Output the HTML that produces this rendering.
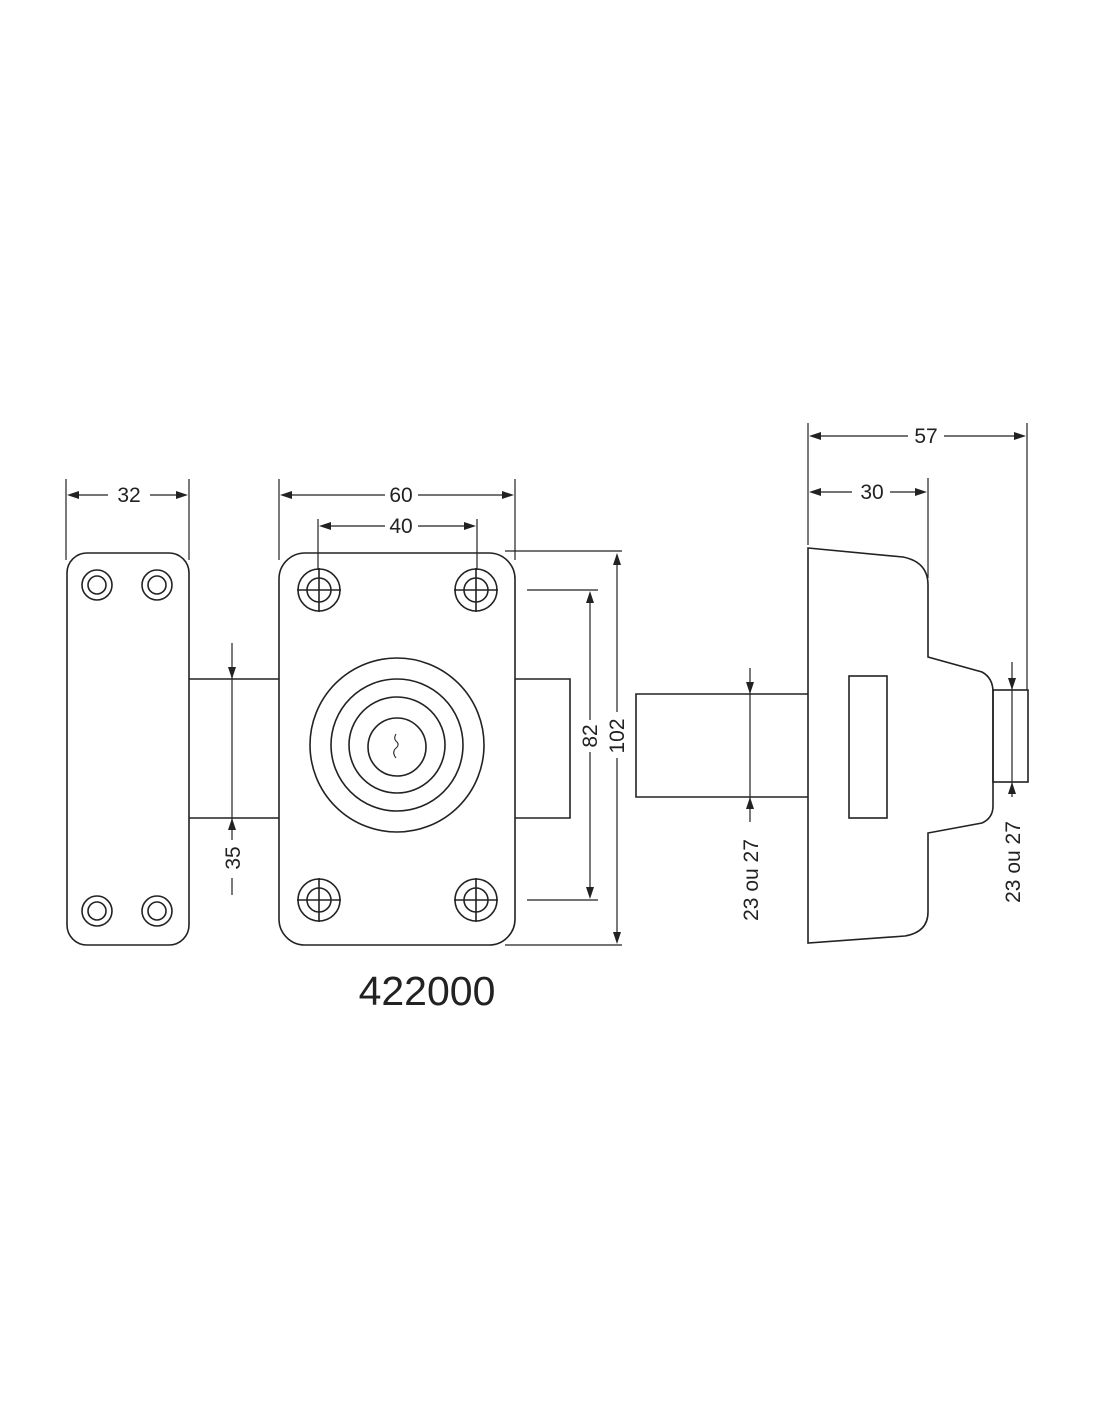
<!DOCTYPE html>
<html><head><meta charset="utf-8"><style>
html,body{margin:0;padding:0;background:#fff}
svg{display:block}
text{font-family:"Liberation Sans",sans-serif;fill:#222}
</style></head><body>
<svg width="1100" height="1422" viewBox="0 0 1100 1422" xmlns="http://www.w3.org/2000/svg">
<g fill="none" stroke="#222" stroke-width="1.6">
<!-- left plate -->
<rect x="67" y="553" width="122" height="392" rx="20"/>
<circle cx="97" cy="585" r="15"/><circle cx="97" cy="585" r="9"/>
<circle cx="157" cy="585" r="15"/><circle cx="157" cy="585" r="9"/>
<circle cx="97" cy="911" r="15"/><circle cx="97" cy="911" r="9"/>
<circle cx="157" cy="911" r="15"/><circle cx="157" cy="911" r="9"/>
<!-- left bar -->
<path d="M189 679 H279 M189 818 H279"/>
<!-- main plate -->
<rect x="279" y="553" width="236" height="392" rx="26"/>
<g id="h">
<circle cx="319" cy="590" r="21"/><circle cx="319" cy="590" r="12"/>
<path d="M297 590 H341 M319 568 V612"/>
</g>
<circle cx="476" cy="590" r="21"/><circle cx="476" cy="590" r="12"/>
<path d="M454 590 H498 M476 568 V612"/>
<circle cx="319" cy="900" r="21"/><circle cx="319" cy="900" r="12"/>
<path d="M297 900 H341 M319 878 V922"/>
<circle cx="476" cy="900" r="21"/><circle cx="476" cy="900" r="12"/>
<path d="M454 900 H498 M476 878 V922"/>
<circle cx="397" cy="745" r="87"/>
<circle cx="397" cy="745" r="66"/>
<circle cx="397" cy="745" r="48"/>
<circle cx="397" cy="747" r="29"/>
<path d="M396 734 q-3 5 1 8 q3 3 -2 7 q-3 4 1 9" stroke-width="1"/>
<!-- right bolt -->
<path d="M515 679 H570 V818 H515"/>
<!-- side view -->
<path d="M808 548 L903 557 Q928 562 928 585 V657 L982 672 Q993 678 993 692 V806 Q993 818 982 823 L928 833 V912 Q928 932 905 936 L808 943 Z"/>
<rect x="993" y="690" width="35" height="92"/>
<rect x="849" y="676" width="38" height="142"/>
<path d="M808 694 H636 V797 H808"/>
</g>
<g stroke="#222" stroke-width="1.2" fill="none">
<!-- extension lines -->
<path d="M66 479 V560 M189 479 V560 M279 479 V560 M515 479 V560 M318 519 V570 M477 519 V570"/>
<path d="M505 551 H622 M505 945 H622 M527 590 H598 M527 900 H598"/>
<path d="M808 423 V545 M928 478 V578 M1027 423 V690"/>
<!-- dim lines -->
<path d="M70 495 H108 M150 495 H185"/>
<path d="M283 495 H385 M418 495 H511"/>
<path d="M322 526 H385 M418 526 H473"/>
<path d="M812 436 H908 M944 436 H1023"/>
<path d="M812 492 H852 M890 492 H924"/>
<path d="M590 594 V720 M590 752 V896"/>
<path d="M617 555 V712 M617 758 V941"/>
<path d="M232 643 V840 M232 878 V895"/>
<path d="M750 668 V822"/>
<path d="M1012 662 V797"/>
</g>
<g fill="#222">
<!-- horizontal arrows -->
<path d="M67 495 l12 -4 v8z M188 495 l-12 -4 v8z"/>
<path d="M280 495 l12 -4 v8z M514 495 l-12 -4 v8z"/>
<path d="M319 526 l12 -4 v8z M476 526 l-12 -4 v8z"/>
<path d="M809 436 l12 -4 v8z M1026 436 l-12 -4 v8z"/>
<path d="M809 492 l12 -4 v8z M927 492 l-12 -4 v8z"/>
<!-- vertical arrows -->
<path d="M590 591 l-4 12 h8z M590 899 l-4 -12 h8z"/>
<path d="M617 553 l-4 12 h8z M617 944 l-4 -12 h8z"/>
<path d="M232 679 l-4 -12 h8z M232 818 l-4 12 h8z"/>
<path d="M750 694 l-4 -12 h8z M750 797 l-4 12 h8z"/>
<path d="M1012 690 l-4 -12 h8z M1012 782 l-4 12 h8z"/>
</g>
<g font-size="21">
<text x="129" y="502" text-anchor="middle">32</text>
<text x="401" y="502" text-anchor="middle">60</text>
<text x="401" y="533" text-anchor="middle">40</text>
<text x="926" y="443" text-anchor="middle">57</text>
<text x="872" y="499" text-anchor="middle">30</text>
<text transform="translate(597 736) rotate(-90)" text-anchor="middle">82</text>
<text transform="translate(624 736) rotate(-90)" text-anchor="middle">102</text>
<text transform="translate(240 858) rotate(-90)" text-anchor="middle">35</text>
<text transform="translate(758 880) rotate(-90)" text-anchor="middle">23 ou 27</text>
<text transform="translate(1020 862) rotate(-90)" text-anchor="middle">23 ou 27</text>
</g>
<text x="427" y="1005" font-size="41" text-anchor="middle">422000</text>
</svg>
</body></html>
